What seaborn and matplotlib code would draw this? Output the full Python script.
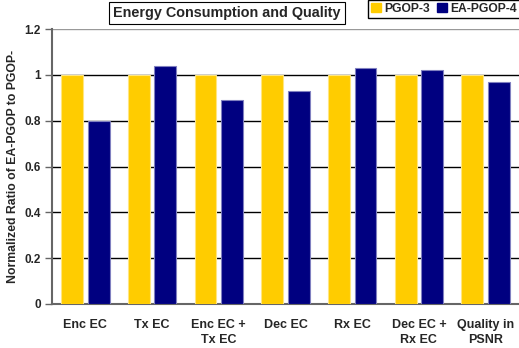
import matplotlib
matplotlib.use("Agg")
import matplotlib.pyplot as plt
import seaborn as sns
import pandas as pd
from matplotlib.patches import Patch

categories = ["Enc EC", "Tx EC", "Enc EC +\nTx EC", "Dec EC", "Rx EC",
              "Dec EC +\nRx EC", "Quality in\nPSNR"]
pgop3 = [1.0, 1.0, 1.0, 1.0, 1.0, 1.0, 1.0]
ea_pgop4 = [0.80, 1.04, 0.89, 0.93, 1.03, 1.02, 0.97]
series_names = ["PGOP-3", "EA-PGOP-4"]
colors = ["#FFCC00", "#000080"]
edge_colors = ["#FFE680", "#8080C0"]
yticks = [0, 0.2, 0.4, 0.6, 0.8, 1.0, 1.2]
ytick_labels = ["0", "0.2", "0.4", "0.6", "0.8", "1", "1.2"]

df = pd.DataFrame({
    "category": categories * 2,
    "value": pgop3 + ea_pgop4,
    "series": [series_names[0]] * len(categories) + [series_names[1]] * len(categories),
})

sns.set_style("white")
plt.rcParams["font.family"] = ["Liberation Sans", "DejaVu Sans"]
plt.rcParams["font.weight"] = "bold"

fig = plt.figure(figsize=(5.19, 3.48), dpi=100)
ax = fig.add_axes([52 / 519, 1 - 304 / 348, 467 / 519, 275 / 348])

sns.barplot(data=df, x="category", y="value", hue="series", hue_order=series_names,
            palette=colors, saturation=1, width=0.8, gap=0.18, ax=ax, legend=False,
            zorder=3, linewidth=0.8)
# soft outline around each series' bars
n = len(categories)
for i, patch in enumerate(ax.patches[:2 * n]):
    patch.set_edgecolor(edge_colors[i // n])

ax.set_xlim(-0.5, n - 0.5)
ax.set_ylim(0, 1.2)
ax.set_yticks(yticks)
ax.set_yticklabels(ytick_labels, fontsize=8.5, fontweight="bold")
ax.grid(axis="y", color="black", linewidth=1.0, zorder=0)
ax.set_axisbelow(True)
ax.yaxis.get_gridlines()[-1].set_color("#999999")

ax.set_xticks(range(n))
ax.set_xticklabels(categories, fontsize=9, fontweight="bold", linespacing=1.35)
ax.tick_params(axis="x", which="major", length=0, pad=11)
ax.set_xticks([i - 0.5 for i in range(n + 1)], minor=True)
ax.tick_params(axis="x", which="minor", length=4, width=1, color="#666666", direction="out")
ax.tick_params(axis="y", length=5, width=1, color="#666666", direction="out", pad=3, left=True)

for side in ["top", "right"]:
    ax.spines[side].set_visible(False)
for side in ["left", "bottom"]:
    ax.spines[side].set_color("#666666")
    ax.spines[side].set_linewidth(1.5)

ax.set_xlabel("")
ax.set_ylabel("Normalized Ratio of EA-PGOP to PGOP-", fontsize=8.8, fontweight="bold",
              labelpad=4)

fig.text(227 / 519, 1 - 13 / 348, "Energy Consumption and Quality", ha="center", va="center",
         fontsize=10.4, fontweight="bold",
         bbox=dict(boxstyle="square,pad=0.3", facecolor="white", edgecolor="black", linewidth=0.8))

handles = [Patch(facecolor=c, edgecolor=c) for c in colors]
fig.legend(handles, series_names, loc="upper left", bbox_to_anchor=(368 / 519, 1.0),
           ncol=2, frameon=True, fancybox=False, edgecolor="black", framealpha=1,
           prop={"weight": "bold", "size": 8.7}, handlelength=0.8, handleheight=0.8,
           handletextpad=0.3, columnspacing=0.6, borderpad=0.25, borderaxespad=0)

fig.savefig("out.png", dpi=100)
